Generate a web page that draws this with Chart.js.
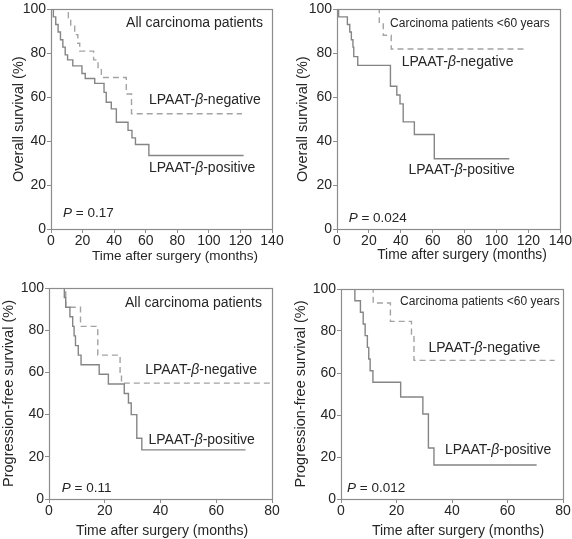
<!DOCTYPE html>
<html><head><meta charset="utf-8">
<script src="https://cdn.jsdelivr.net/npm/chart.js@4.4.1/dist/chart.umd.min.js"></script>
<style>
html,body{margin:0;padding:0;background:#fff;}
#wrap{position:relative;width:572px;height:539px;overflow:hidden;background:#fff;}
canvas{position:absolute;}
</style></head><body>
<div id="wrap">
<canvas id="c1" width="290" height="270" style="left:0px;top:0px;width:290px;height:270px"></canvas>
<canvas id="c2" width="282" height="270" style="left:290px;top:0px;width:282px;height:270px"></canvas>
<canvas id="c3" width="290" height="269" style="left:0px;top:270px;width:290px;height:269px"></canvas>
<canvas id="c4" width="282" height="269" style="left:290px;top:270px;width:282px;height:269px"></canvas>
</div>
<script>
// ---------- data (months, survival %) ----------
// Panel 1: overall survival, all carcinoma patients
const posT1 = [0, 1.5, 3, 4.5, 6, 7.5, 9, 10.5, 13.8, 19.6, 21.7, 27.7, 33.6, 35, 38.2, 41.4, 48.8, 51.3, 53.5, 62, 122];
const posS1 = [100, 96.6, 93.1, 89.7, 86.2, 82.8, 79.3, 77, 74.3, 70.8, 68.5, 66.3, 62.2, 57.7, 54.7, 48.6, 44.9, 41.5, 38.5, 33.5, 33.5];
const negT1 = [0, 11, 12.5, 15, 17, 18.2, 27, 29.8, 31.9, 47.7, 51, 121];
const negS1 = [100, 96.2, 92.3, 88.5, 84.6, 81, 77, 73.5, 69, 61.5, 52.5, 52.5];
// Panel 2: overall survival, carcinoma patients <60 years
const posT2 = [0, 1, 6.5, 8, 9, 10, 10.5, 13, 33.5, 37.5, 39.5, 41.5, 48.5, 61, 108];
const posS2 = [100, 96.6, 93.1, 89.7, 86.2, 82.8, 78.5, 74.5, 65, 61, 57, 48.8, 43, 32, 32];
const negT2 = [0, 26.5, 29, 34, 119];
const negS2 = [100, 94.1, 88.2, 82, 82];
// Panel 3: progression-free survival, all carcinoma patients
const posT3 = [0, 5.5, 6, 7.5, 8.5, 9, 9.5, 10.5, 11.5, 18, 21.3, 27, 28.5, 29.5, 31.5, 33.3, 70.5];
const posS3 = [100, 95.5, 90.9, 86.4, 81.8, 77.3, 72.7, 68.2, 63.6, 59.1, 54.5, 50, 45.5, 40, 28.8, 23.3, 23.3];
const negT3 = [0, 6, 11.3, 17.5, 25.5, 26, 79.6];
const negS3 = [100, 90.9, 81.8, 68.2, 59.7, 54.9, 54.9];
// Panel 4: progression-free survival, carcinoma patients <60 years
const posT4 = [0, 5, 7, 8, 8.7, 9.5, 10, 10.5, 11.5, 21.5, 29.5, 31.5, 33.5, 70.5];
const posS4 = [100, 94.4, 88.9, 83.3, 77.8, 72.2, 66.7, 61.1, 55.6, 48.6, 40.5, 24.3, 16.2, 16.2];
const negT4 = [0, 11.6, 17.8, 25.4, 26.3, 77];
const negS4 = [100, 93.3, 84.6, 78.5, 66, 66];

const xTicks140 = [0, 20, 40, 60, 80, 100, 120, 140];
const xTicks80 = [0, 20, 40, 60, 80];
const yTicks = [0, 20, 40, 60, 80, 100];

const pValues = ['0.17', '0.024', '0.11', '0.012'];
const groupLabels = ['All carcinoma patients', 'Carcinoma patients <60 years', 'All carcinoma patients', 'Carcinoma patients <60 years'];
const yTitles = ['Overall survival (%)', 'Overall survival (%)', 'Progression-free survival (%)', 'Progression-free survival (%)'];
const xTitle = 'Time after surgery (months)';

// ---------- styling ----------
const FONT = '"Liberation Sans", Arial, Helvetica, sans-serif';
const AXIS = '#8c8c8c';
const TEXT = '#262626';
const POS_COLOR = '#858585';
const NEG_COLOR = '#a3a3a3';

function pts(t, s) { return t.map((x, i) => ({ x: x, y: s[i] })); }

const framePlugin = {
  id: 'frame',
  afterDatasetsDraw(chart) {
    const a = chart.chartArea, ctx = chart.ctx;
    ctx.save();
    ctx.strokeStyle = AXIS;
    ctx.lineWidth = 1.2;
    ctx.strokeRect(Math.round(a.left) + 0.5, Math.round(a.top) + 0.5, Math.round(a.right - a.left), Math.round(a.bottom - a.top));
    ctx.restore();
  }
};

const annotPlugin = {
  id: 'annot',
  afterDraw(chart, args, opts) {
    const ctx = chart.ctx, xs = chart.scales.x, ys = chart.scales.y;
    ctx.save();
    ctx.fillStyle = TEXT;
    ctx.textBaseline = 'middle';
    ctx.textAlign = 'left';
    (opts.items || []).forEach(it => {
      const fonts = it.segs.map(s => (s.i ? 'italic ' : '') + it.size + 'px ' + FONT);
      let total = 0;
      const widths = it.segs.map((s, k) => { ctx.font = fonts[k]; const w = ctx.measureText(s.t).width; total += w; return w; });
      let px = it.px !== undefined ? it.px : xs.getPixelForValue(it.x);
      const py = it.py !== undefined ? it.py : ys.getPixelForValue(it.y);
      if (it.align === 'right') px -= total;
      if (it.align === 'center') px -= total / 2;
      it.segs.forEach((s, k) => { ctx.font = fonts[k]; ctx.fillText(s.t, px, py); px += widths[k]; });
    });
    ctx.restore();
  }
};

function lpaat(word) { return [{ t: 'LPAAT-' }, { t: '\u03B2', i: true }, { t: '-' + word }]; }

function makeChart(id, p) {
  const items = p.items.concat([{ px: p.xTitleX, py: p.xTitleY, align: 'center', size: p.xTitleSize, segs: [{ t: xTitle }] }]);
  new Chart(document.getElementById(id), {
    type: 'line',
    data: {
      datasets: [
        { data: pts(p.posT, p.posS), borderColor: POS_COLOR, borderWidth: 1.4, stepped: 'before', pointRadius: 0, fill: false },
        { data: pts(p.negT, p.negS), borderColor: NEG_COLOR, borderWidth: 1.4, borderDash: [6, 4], stepped: 'before', pointRadius: 0, fill: false }
      ]
    },
    options: {
      responsive: false, animation: false, events: [],
      layout: { padding: { top: p.padTop, right: p.padRight, left: 0, bottom: 0 } },
      plugins: {
        legend: { display: false }, tooltip: { enabled: false },
        annot: { items: items }
      },
      scales: {
        x: {
          type: 'linear', min: 0, max: p.xTicks[p.xTicks.length - 1],
          afterFit(s) { s.height = p.xH; },
          afterBuildTicks(s) { s.ticks = p.xTicks.map(v => ({ value: v })); },
          ticks: { color: TEXT, font: { family: FONT, size: 14 }, padding: 0, maxRotation: 0, autoSkip: false },
          grid: { drawOnChartArea: false, drawTicks: true, tickLength: 4, color: AXIS },
          border: { display: false },
          title: { display: false }
        },
        y: {
          type: 'linear', min: 0, max: 100,
          afterFit(s) { s.width = p.yW; },
          afterBuildTicks(s) { s.ticks = yTicks.map(v => ({ value: v })); },
          ticks: { color: TEXT, font: { family: FONT, size: 14 }, padding: 1, autoSkip: false },
          grid: { drawOnChartArea: false, drawTicks: true, tickLength: 4, color: AXIS },
          border: { display: false },
          title: { display: true, text: p.yTitle, color: TEXT, font: { family: FONT, size: 14.5 }, padding: { top: p.yTitlePad, bottom: 0 } }
        }
      }
    },
    plugins: [framePlugin, annotPlugin]
  });
}

makeChart('c1', {
  posT: posT1, posS: posS1, negT: negT1, negS: negS1, xTicks: xTicks140, yTitle: yTitles[0],
  padTop: 8, padRight: 18, xH: 41, yW: 51, yTitlePad: 10,
  xTitleX: 175, xTitleY: 256.5, xTitleSize: 13.5,
  items: [
    { x: 134.3, y: 93.8, align: 'right', size: 14, segs: [{ t: groupLabels[0] }] },
    { x: 62.1, y: 58.5, size: 14, segs: lpaat('negative') },
    { x: 62.1, y: 27.6, size: 14, segs: lpaat('positive') },
    { x: 7.6, y: 7.2, size: 13.5, segs: [{ t: 'P', i: true }, { t: ' = ' + pValues[0] }] }
  ]
});
makeChart('c2', {
  posT: posT2, posS: posS2, negT: negT2, negS: negS2, xTicks: xTicks140, yTitle: yTitles[1],
  padTop: 9, padRight: 11, xH: 41, yW: 47, yTitlePad: 4,
  xTitleX: 172, xTitleY: 255, xTitleSize: 13.8,
  items: [
    { x: 33.3, y: 93.5, size: 12, segs: [{ t: groupLabels[1] }] },
    { x: 40.6, y: 76, size: 14, segs: lpaat('negative') },
    { x: 44.8, y: 26.8, size: 14, segs: lpaat('positive') },
    { x: 7.3, y: 4.9, size: 13.5, segs: [{ t: 'P', i: true }, { t: ' = ' + pValues[1] }] }
  ]
});
makeChart('c3', {
  posT: posT3, posS: posS3, negT: negT3, negS: negS3, xTicks: xTicks80, yTitle: yTitles[2],
  padTop: 18, padRight: 18, xH: 40, yW: 49, yTitlePad: 0.5,
  xTitleX: 162, xTitleY: 261, xTitleSize: 14,
  items: [
    { x: 76.4, y: 92.9, align: 'right', size: 14, segs: [{ t: groupLabels[2] }] },
    { x: 34.5, y: 61.2, size: 14, segs: lpaat('negative') },
    { x: 35.7, y: 28, size: 14, segs: lpaat('positive') },
    { x: 4.6, y: 5.1, size: 13.5, segs: [{ t: 'P', i: true }, { t: ' = ' + pValues[2] }] }
  ]
});
makeChart('c4', {
  posT: posT4, posS: posS4, negT: negT4, negS: negS4, xTicks: xTicks80, yTitle: yTitles[3],
  padTop: 19, padRight: 9, xH: 40, yW: 51, yTitlePad: 2.5,
  xTitleX: 168, xTitleY: 261, xTitleSize: 14,
  items: [
    { x: 21.3, y: 94.1, size: 12, segs: [{ t: groupLabels[3] }] },
    { x: 31.5, y: 71.9, size: 14, segs: lpaat('negative') },
    { x: 37.5, y: 23.4, size: 14, segs: lpaat('positive') },
    { x: 2.2, y: 5.1, size: 13.5, segs: [{ t: 'P', i: true }, { t: ' = ' + pValues[3] }] }
  ]
});
</script>
</body></html>
